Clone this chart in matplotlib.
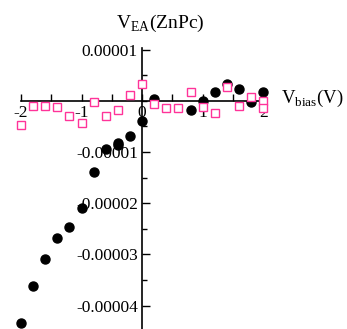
import numpy as np
import matplotlib
matplotlib.use("Agg")
import matplotlib.pyplot as plt
from matplotlib.ticker import MultipleLocator, FixedLocator, FuncFormatter

plt.rcParams['font.family'] = ['Liberation Serif', 'DejaVu Serif']
plt.rcParams['mathtext.fontset'] = 'custom'
plt.rcParams['mathtext.rm'] = 'Liberation Serif'

# black circles: V_EA (ZnPc) vs V_bias
x_black = [-2.0, -1.8, -1.6, -1.4, -1.2, -1.0, -0.8, -0.6, -0.4, -0.4, -0.2,
           0.0, 0.2, 0.8, 1.0, 1.2, 1.4, 1.6, 1.8, 2.0]
y_black = [-4.34, -3.62, -3.08, -2.68, -2.46, -2.09, -1.40, -0.95, -0.82, -0.86, -0.69,
           -0.40, 0.03, -0.19, -0.01, 0.17, 0.32, 0.22, -0.02, 0.18]

# pink squares
x_pink = [-2.0, -1.8, -1.6, -1.4, -1.2, -1.0, -0.8, -0.6, -0.4, -0.2, 0.0,
          0.2, 0.4, 0.6, 0.8, 1.0, 1.2, 1.4, 1.6, 1.8, 2.0, 2.0]
y_pink = [-0.48, -0.11, -0.11, -0.12, -0.29, -0.43, -0.02, -0.29, -0.18, 0.11, 0.33,
          -0.06, -0.14, -0.14, 0.18, -0.13, -0.24, 0.26, -0.11, 0.07, -0.01, -0.15]

scale = 1e-5
y_black = np.array(y_black) * scale
y_pink = np.array(y_pink) * scale

fig = plt.figure(figsize=(3.47, 3.29), dpi=100)
ax = fig.add_axes([21 / 347, 0.0, 244 / 347, (329 - 48.5) / 329])

ax.plot(x_black, y_black, 'o', color='black', markersize=6.5, clip_on=False, zorder=3)
ax.plot(x_pink, y_pink, 's', markerfacecolor='white', markeredgecolor='#ff3399',
        markeredgewidth=1.0, markersize=5.6, clip_on=False, zorder=4)

ax.set_xlim(-2, 2.03)
ax.set_ylim(-4.456e-5, 1.02e-5)

ax.spines['left'].set_position(('data', 0))
ax.spines['bottom'].set_position(('data', 0))
ax.spines['top'].set_visible(False)
ax.spines['right'].set_visible(False)
for s in ('left', 'bottom'):
    ax.spines[s].set_linewidth(1.2)

ax.xaxis.set_major_locator(FixedLocator([-2, -1, 0, 1, 2]))
ax.xaxis.set_minor_locator(FixedLocator([-1.5, -0.5, 0.5, 1.5]))
ax.xaxis.set_major_formatter(FuncFormatter(lambda v, p: '%d' % v))
ax.yaxis.set_major_locator(FixedLocator([1e-5, -1e-5, -2e-5, -3e-5, -4e-5]))
ax.yaxis.set_minor_locator(MultipleLocator(0.5e-5))
ax.yaxis.set_major_formatter(FuncFormatter(lambda v, p: '%.5f' % v))

ax.tick_params(axis='x', which='both', direction='in', length=5, width=1, pad=3, labelsize=12.5)
ax.tick_params(axis='y', which='major', direction='in', length=6, width=1, pad=3, labelsize=12.5)
ax.tick_params(axis='y', which='minor', direction='in', length=3.5, width=1)

fig.text(116 / 347, 1 - 28 / 329, r'V$_{\rm EA}$(ZnPc)', fontsize=14, va='baseline', ha='left')
fig.text(281 / 347, 1 - 103 / 329, r'V$_{\rm bias}$(V)', fontsize=13.5, va='baseline', ha='left')

fig.savefig('out.png', dpi=100)
